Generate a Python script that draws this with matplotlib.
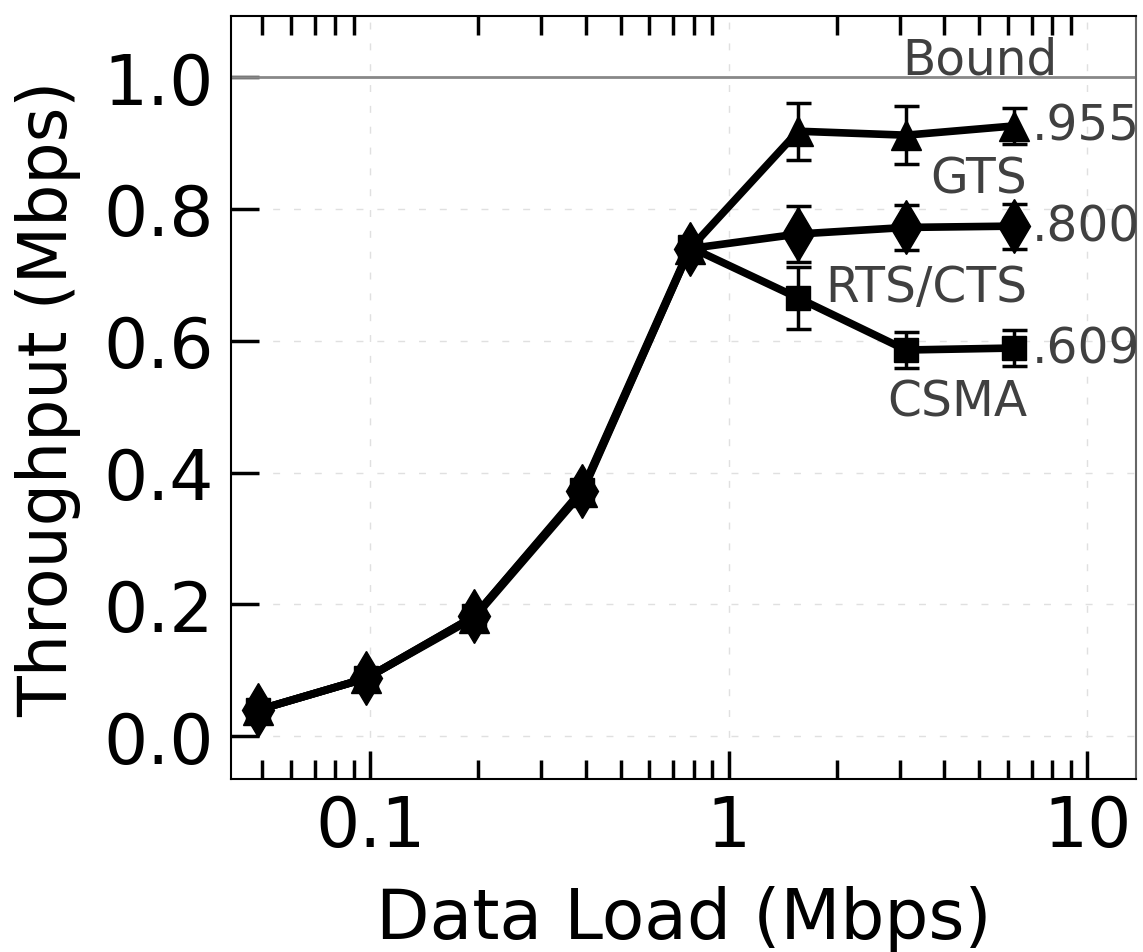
import numpy as np
import matplotlib
matplotlib.use("Agg")
import matplotlib.pyplot as plt
from matplotlib.ticker import LogLocator, FixedLocator, NullFormatter, FuncFormatter

# data load (Mbps)
load = [0.048828125, 0.09765625, 0.1953125, 0.390625, 0.78125, 1.5625, 3.125, 6.25]

gts = [0.040, 0.088, 0.180, 0.370, 0.740, 0.918, 0.912, 0.926]
gtsErr = [0, 0, 0, 0, 0, 0.043, 0.044, 0.027]
rts = [0.040, 0.088, 0.182, 0.372, 0.740, 0.762, 0.772, 0.774]
rtsErr = [0, 0, 0, 0, 0, 0.042, 0.034, 0.034]
csma = [0.040, 0.088, 0.182, 0.374, 0.742, 0.665, 0.586, 0.589]
csmaErr = [0, 0, 0, 0, 0, 0.047, 0.027, 0.027]

names = ["GTS", "RTS/CTS", "CSMA"]
finals = [".955", ".800", ".609"]
bound = 1.0

textColor = "#404040"

fig = plt.figure(figsize=(11.43, 9.53), dpi=100)
ax = fig.add_axes([0.202, 0.1815, 0.792, 0.8005])

series = [(csma, csmaErr, "s", 17), (rts, rtsErr, "d", 27), (gts, gtsErr, "^", 22)]
for vals, err, mk, ms in series:
	ax.plot(load, vals, color="black", marker=mk, markersize=ms, linewidth=5.5, zorder=3)
	# only points that have a spread get error bars
	idx = [i for i in range(len(err)) if err[i] > 0]
	ax.errorbar([load[i] for i in idx], [vals[i] for i in idx], yerr=[err[i] for i in idx],
				fmt="none", ecolor="black", elinewidth=2.5, capsize=9, capthick=2.5, zorder=3)

ax.axhline(bound, color="#888888", linewidth=2, zorder=2)

ax.set_xscale("log")
ax.set_xlim(0.0409, 13.7)
ax.set_ylim(-0.065, 1.0926)

ax.xaxis.set_major_locator(FixedLocator([0.1, 1, 10]))
ax.xaxis.set_major_formatter(FuncFormatter(lambda v, p: "%g" % v))
ax.xaxis.set_minor_locator(LogLocator(base=10, subs=np.arange(2, 10)))
ax.xaxis.set_minor_formatter(NullFormatter())
ax.set_yticks([0.0, 0.2, 0.4, 0.6, 0.8, 1.0])
ax.yaxis.set_major_formatter(FuncFormatter(lambda v, p: "%.1f" % v))

ax.tick_params(axis="x", which="major", direction="in", length=20, width=2.5, labelsize=50, pad=10, top=False)
ax.tick_params(axis="x", which="minor", direction="in", length=14, width=2.5, top=True)
ax.tick_params(axis="y", which="major", direction="in", length=20, width=2.5, labelsize=50, pad=12, right=False)

ax.grid(True, which="major", color="#e0e0e0", linewidth=1, linestyle=(0, (5, 10)), zorder=0)

for side in ["left", "bottom", "top"]:
	ax.spines[side].set_color("black")
	ax.spines[side].set_linewidth(1.5)
ax.spines["right"].set_color("#666666")
ax.spines["right"].set_linewidth(1.5)

ax.set_xlabel("Data Load (Mbps)", fontsize=50, labelpad=18)
ax.set_ylabel("Throughput (Mbps)", fontsize=48, labelpad=16)

# annotations
labelY = [0.846, 0.682, 0.508]
finalY = [gts[-1], rts[-1], csma[-1]]
for name, fin, ly, fy in zip(names, finals, labelY, finalY):
	ax.text(7.0, fy, fin, fontsize=35, color=textColor, ha="left", va="center")
	ax.text(6.8, ly, name, fontsize=35, color=textColor, ha="right", va="center")
ax.text(8.25, 1.005, "Bound", fontsize=35, color=textColor, ha="right", va="baseline")

fig.savefig("out.png", dpi=100)
